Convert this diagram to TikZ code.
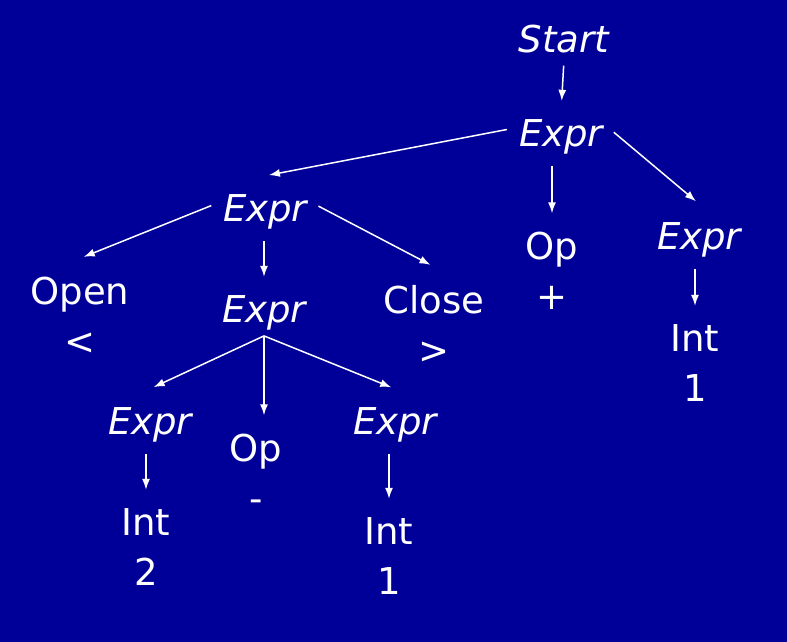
\documentclass[tikz,border=0pt]{standalone}
\usepackage{fontspec}
\setmainfont{DejaVu Sans}
\usetikzlibrary{arrows.meta}
\definecolor{slideblue}{RGB}{0,0,153}
\tikzset{
	sym/.style={text=white, anchor=base, align=center, inner sep=6pt, font=\fontsize{37}{50}\selectfont},
	nterm/.style={sym, font=\fontsize{37}{50}\selectfont\itshape},
	edge/.style={white, line width=1.5pt, -{Latex[length=11pt,width=8pt]}, shorten <=6pt, shorten >=12pt},
	branch/.style={edge, shorten >=4pt}
}
\begin{document}
\begin{tikzpicture}[x=1pt,y=-1pt]
	\fill[slideblue](0,0) rectangle (787,642);

	% top of the tree
	\node[nterm] (start) at (564,53) {Start};
	\node[nterm] (etop) at (561,146) {Expr};
	\node[nterm] (eleft) at (265,221) {Expr};
	\node[sym] (op) at (552,309) {Op\\+};
	\node[nterm] (eright) at (699,249) {Expr};
	\node[sym] (intr) at (695,401) {Int\\1};

	% left branch
	\node[sym] (open) at (80,354) {Open\\<};
	\node[nterm] (emid) at (264,322) {Expr};
	\node[sym] (close) at (434,363) {Close\\>};
	\node[nterm] (ell) at (150,434) {Expr};
	\node[sym] (opm) at (256,511) {Op\\-};
	\node[nterm] (elr) at (395,434) {Expr};
	\node[sym] (int2) at (146,585) {Int\\2};
	\node[sym] (int1) at (389,594) {Int\\1};

	\draw[edge](start.south) -- (etop.north);
	% slanted edges
	\foreach \a/\b in {etop.west/eleft.north, etop.east/eright.north,
	                   eleft.west/open.north, eleft.east/close.north} {
	     \draw[branch]([yshift=8pt]\a) -- ([yshift=12pt]\b);
	}
	% straight down
	\foreach \a/\b in {etop/op, eleft/emid, eright/intr, ell/int2, elr/int1} {
	     \draw[edge](\b.north |- \a.south) -- (\b.north);
	}
	\foreach \b in {ell,elr} {
	     \draw[branch, shorten <=0pt](emid.south) -- ([yshift=12pt]\b.north);
	}
	\draw[edge, shorten <=0pt](emid.south) -- (emid.south |- opm.north);
\end{tikzpicture}
\end{document}
